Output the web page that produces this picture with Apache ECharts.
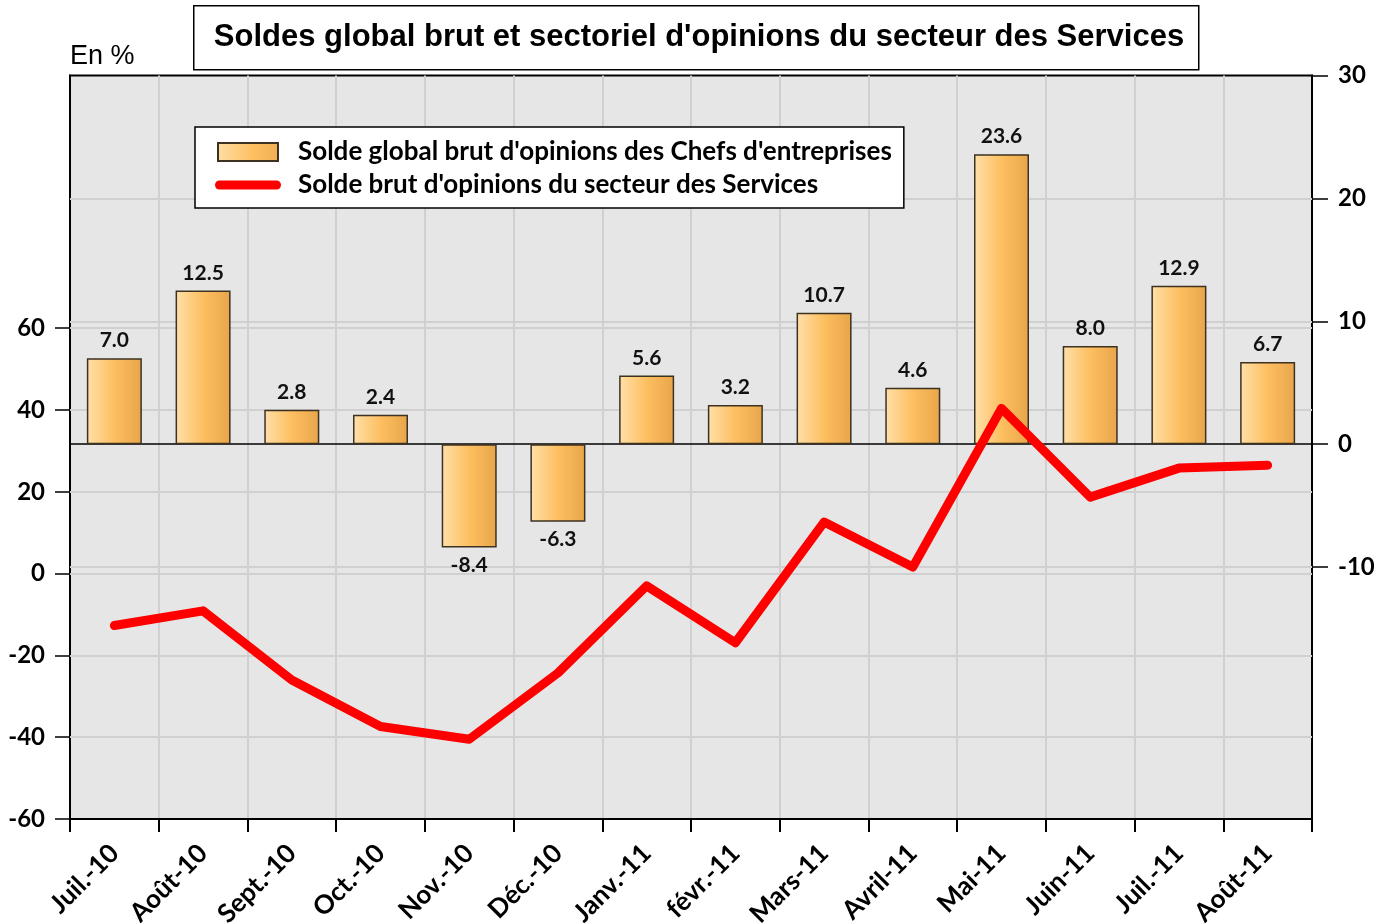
<!DOCTYPE html>
<html><head><meta charset="utf-8">
<script src="https://cdn.jsdelivr.net/npm/echarts@6/dist/echarts.min.js"></script>
<style>html,body{margin:0;padding:0;background:#fff}#c{width:1388px;height:923px}</style>
</head><body><div id="c"></div>
<script>
const categories = ['Juil.-10','Août-10','Sept.-10','Oct.-10','Nov.-10','Déc.-10','Janv.-11','févr.-11','Mars-11','Avril-11','Mai-11','Juin-11','Juil.-11','Août-11'];
const globalBalance = [7.0,12.5,2.8,2.4,-8.4,-6.3,5.6,3.2,10.7,4.6,23.6,8.0,12.9,6.7];
const servicesBalance = [-12.7,-9.1,-26.0,-37.4,-40.5,-24.3,-3.0,-16.9,12.6,1.6,40.4,18.7,25.8,26.5];
const leftTicks = [-60,-40,-20,0,20,40,60];
const rightTicks = [-10,0,10,20,30];
const leftGrid = [-40,-20,0,20,40,60];
const rightGrid = [-10,10,20];
const titleText = "Soldes global brut et sectoriel d'opinions du secteur des Services";
const unitText = 'En %';
const seriesNames = ["Solde global brut d'opinions des Chefs d'entreprises", "Solde brut d'opinions du secteur des Services"];

const FONT = 'Lato';
const chart = echarts.init(document.getElementById('c'), null, {renderer:'canvas'});
const gridLineStyle = {color:'#d0d0d0', width:2, type:'solid'};
const barGradient = new echarts.graphic.LinearGradient(0,0,1,0,[
  {offset:0, color:'#FFE0AA'},{offset:0.5, color:'#FDBF60'},{offset:1, color:'#E8A54A'}]);

chart.setOption({
  animation:false,
  backgroundColor:'#ffffff',
  graphic:[
    {type:'rect', left:193, top:5, z:10, shape:{width:1005, height:64}, style:{fill:'#fff', stroke:'#000', lineWidth:1.5}},
    {type:'text', x:699, y:37, z:11, style:{text:titleText, font:'bold 31px "Liberation Sans", Arial, sans-serif', fill:'#000', align:'center', verticalAlign:'middle', textAlign:'center', textVerticalAlign:'middle'}},
    {type:'text', x:70, y:57, z:11, style:{text:unitText, font:'27px "Liberation Sans", Arial, sans-serif', fill:'#000', align:'left', verticalAlign:'middle', textAlign:'left', textVerticalAlign:'middle'}}
  ],
  legend:{
    orient:'vertical', left:195, top:127,
    padding:[12,12,10,19],
    itemWidth:78, itemHeight:18, itemGap:7,
    backgroundColor:'#fff', borderColor:'#000', borderWidth:1.5,
    textStyle:{fontFamily:FONT, fontWeight:'bold', fontSize:26, color:'#000'},
    data:[{name:seriesNames[0], icon:'path://M0,9L0,9M3,0H63V18H3ZM78,9L78,9'},
          {name:seriesNames[1], icon:'path://M0,4.5L0,4.5M4.5,0H61.5A4.5,4.5 0 0 1 61.5,9H4.5A4.5,4.5 0 0 1 4.5,0ZM78,4.5L78,4.5'}]
  },
  grid:{left:70, right:76, top:75.5, bottom:104, outerBoundsMode:'none', containLabel:false,
        show:true, backgroundColor:'#e6e6e6', borderColor:'#000', borderWidth:2},
  xAxis:{
    type:'category', data:categories, boundaryGap:true,
    axisLine:{show:true, onZero:false, lineStyle:{color:'#000', width:2}},
    axisTick:{show:true, length:13, lineStyle:{color:'#000', width:2}},
    axisLabel:{rotate:45, interval:0, margin:30, fontFamily:FONT, fontWeight:'bold', fontSize:26, color:'#000'},
    splitLine:{show:true, lineStyle:gridLineStyle}
  },
  yAxis:[
    {type:'value', position:'left', min:-60, max:121.8,
     axisLine:{show:true, lineStyle:{color:'#000', width:2}},
     axisTick:{show:true, length:15, customValues:leftTicks, lineStyle:{color:'#000', width:1.5}},
     axisLabel:{customValues:leftTicks, margin:25, align:'right', fontFamily:FONT, fontWeight:'bold', fontSize:24, color:'#000'},
     splitLine:{show:false}},
    {type:'value', position:'right', min:-30.49, max:30,
     axisLine:{show:true, lineStyle:{color:'#000', width:2}},
     axisTick:{show:true, length:16, customValues:rightTicks, lineStyle:{color:'#000', width:1.5}},
     axisLabel:{customValues:rightTicks, margin:26, align:'left', fontFamily:FONT, fontWeight:'bold', fontSize:24, color:'#000'},
     splitLine:{show:false}}
  ],
  series:[
    {name:seriesNames[0], type:'bar', yAxisIndex:1, barWidth:55, z:2,
     itemStyle:{color:barGradient, borderColor:'#3d3222', borderWidth:1.5},
     label:{show:true, distance:7, fontFamily:FONT, fontWeight:'bold', fontSize:21, color:'#111',
            formatter:p=>Number(p.value).toFixed(1)},
     data:globalBalance.map(v=>({value:v, label:{position: v<0 ? 'bottom' : 'top'}})),
     markLine:{silent:true, symbol:['none','none'], z:1, label:{show:false},
       data:[...rightGrid.map(v=>({yAxis:v, lineStyle:gridLineStyle})), {yAxis:0, lineStyle:{color:'#000', width:1.5, type:'solid'}}]}
    },
    {name:seriesNames[1], type:'line', yAxisIndex:0, data:servicesBalance, symbol:'none', showSymbol:false, z:4,
     itemStyle:{color:'#ff0000'},
     lineStyle:{color:'#ff0000', width:9, cap:'round', join:'round'},
     markLine:{silent:true, symbol:['none','none'], z:1, label:{show:false},
       data:leftGrid.map(v=>({yAxis:v, lineStyle:gridLineStyle}))}
    }
  ]
});
</script></body></html>
